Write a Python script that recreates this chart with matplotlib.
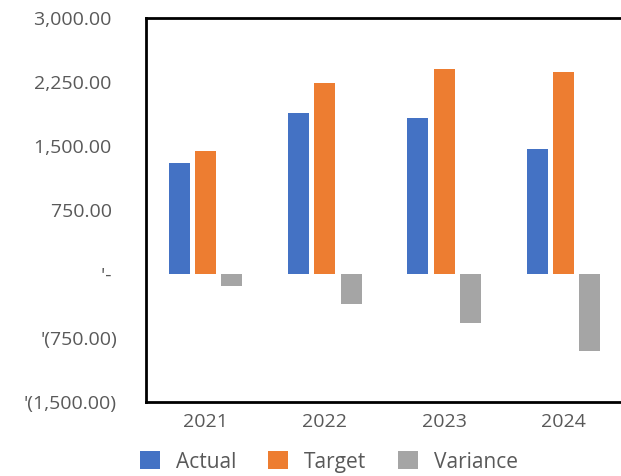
import matplotlib
matplotlib.use("Agg")
import matplotlib.pyplot as plt
import numpy as np

years = ["2021", "2022", "2023", "2024"]
actual = [1300, 1890, 1830, 1470]
target = [1440, 2240, 2400, 2370]
variance = [-140, -350, -570, -900]
yticks = [-1500, -750, 0, 750, 1500, 2250, 3000]
ytick_labels = ["'(1,500.00)", "'(750.00)", "'- ", "750.00 ", "1,500.00 ", "2,250.00 ", "3,000.00 "]

plt.rcParams['font.family'] = ['Open Sans', 'DejaVu Sans']
txt = "#595959"

fig = plt.figure(figsize=(6.21, 4.76), dpi=100)
ax = fig.add_axes([146/621, 1-402/476, (623-146)/621, (402-18)/476])

x = np.arange(len(years))
w = 0.176
off = 0.221
ax.bar(x - off, actual, w, color="#4472C4", label="Actual")
ax.bar(x, target, w, color="#ED7D31", label="Target")
ax.bar(x + off, variance, w, color="#A5A5A5", label="Variance")

ax.set_xlim(-0.5, 3.5)
ax.set_ylim(-1500, 3000)
ax.set_yticks(yticks)
ax.set_yticklabels(ytick_labels)
ax.set_xticks(x)
ax.set_xticklabels(years)
ax.tick_params(axis='both', length=0, colors=txt, labelsize=14)
ax.tick_params(axis='y', pad=21)
ax.tick_params(axis='x', pad=8)
for s in ["left", "top", "bottom", "right"]:
    ax.spines[s].set_color("black")
    ax.spines[s].set_linewidth(2)

fig.legend(loc="center", bbox_to_anchor=(329/621, 1-462/476), ncol=3, frameon=False,
           fontsize=15, labelcolor=txt, handlelength=0.95, handleheight=0.95,
           columnspacing=1.5, handletextpad=0.8)

fig.savefig("out.png", dpi=100)
